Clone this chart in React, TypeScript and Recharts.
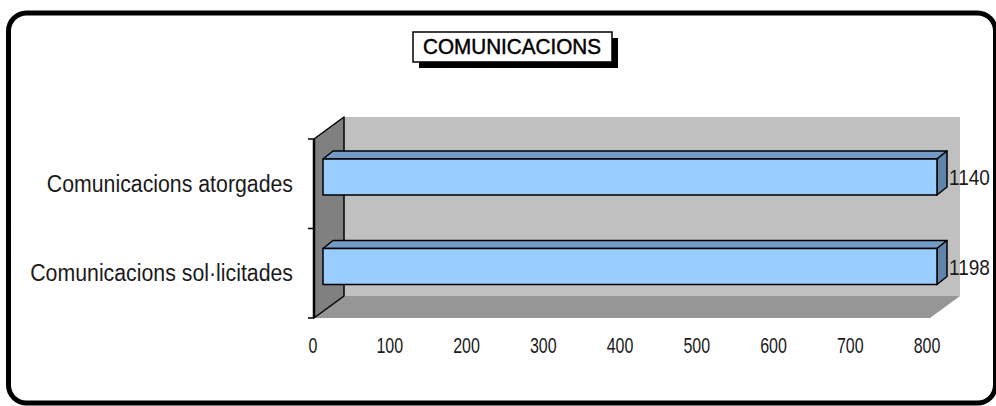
import { BarChart, Bar, XAxis, YAxis, LabelList, usePlotArea } from 'recharts';

const categories = ['Comunicacions atorgades', 'Comunicacions sol·licitades'];
const values = [1140, 1198];
const xTicks = [0, 100, 200, 300, 400, 500, 600, 700, 800];
const title = 'COMUNICACIONS';

const data = categories.map((name, i) => ({ name, value: values[i] }));
const X_MAX = xTicks[xTicks.length - 1];

const FONT = '"Liberation Sans", Arial, sans-serif';
const WALL = { dx: 30, dy: -22 };
const BAR_DEPTH = { dx: 10, dy: -8 };
const BAR_SHIFT = { dx: 9, dy: -7 };
const PAD_RIGHT = 67;

// the original cuts the bars off at the end of the value axis
const barLength = (d: { value: number }) => Math.min(d.value, X_MAX);

const Walls = () => {
  const area = usePlotArea();
  if (!area) return null;
  const x0 = area.x;
  const x1 = area.x + area.width - PAD_RIGHT + 2;
  const y0 = area.y;
  const y1 = area.y + area.height;
  const n = categories.length;
  const ticks = Array.from({ length: n + 1 }, (_, i) => y0 + (i * (y1 - y0)) / n);
  return (
    <g>
      <rect x={x0 + WALL.dx} y={y0 + WALL.dy} width={x1 - x0} height={y1 - y0} fill="#c0c0c0" />
      <polygon
        points={`${x0},${y1} ${x0 + WALL.dx},${y1 + WALL.dy} ${x1 + WALL.dx},${y1 + WALL.dy} ${x1},${y1}`}
        fill="#969696"
      />
      <polygon
        points={`${x0},${y0} ${x0 + WALL.dx},${y0 + WALL.dy} ${x0 + WALL.dx},${y1 + WALL.dy} ${x0},${y1}`}
        fill="#808080"
        stroke="#000"
        strokeWidth={1.5}
        strokeLinejoin="round"
      />
      <line x1={x0} y1={y0} x2={x0} y2={y1} stroke="#000" strokeWidth={2.5} />
      {ticks.map((t) => (
        <line key={t} x1={x0 - 6} y1={t} x2={x0} y2={t} stroke="#000" strokeWidth={1.5} />
      ))}
    </g>
  );
};

const Bar3D = (props: any) => {
  const { x, y, width: w, height } = props;
  const fx = x + BAR_SHIFT.dx;
  const fy = y + BAR_SHIFT.dy;
  const { dx, dy } = BAR_DEPTH;
  return (
    <g stroke="#000" strokeWidth={1.5} strokeLinejoin="round">
      <polygon
        points={`${fx},${fy} ${fx + dx},${fy + dy} ${fx + w + dx},${fy + dy} ${fx + w},${fy}`}
        fill="#739bc6"
      />
      <polygon
        points={`${fx + w},${fy} ${fx + w + dx},${fy + dy} ${fx + w + dx},${fy + height + dy} ${fx + w},${fy + height}`}
        fill="#6084ab"
      />
      <rect x={fx} y={fy} width={w} height={height} fill="#99ccff" />
    </g>
  );
};

const ValueLabel = (props: any) => {
  const { x, y, width, height, value } = props;
  const lx = x + BAR_SHIFT.dx + width + BAR_DEPTH.dx + 2;
  const ly = y + BAR_SHIFT.dy + height / 2 + 8;
  return (
    <text transform={`translate(${lx},${ly}) scale(1,1.15)`} fontSize={19} fontFamily={FONT} fill="#1a1a1a">
      {value}
    </text>
  );
};

const CategoryTick = (props: any) => {
  const { x, y, payload } = props;
  return (
    <text
      transform={`translate(${x - 21},${y + 8}) scale(1,1.12)`}
      textAnchor="end"
      fontSize={21.3}
      fontFamily={FONT}
      fill="#1a1a1a"
    >
      {payload.value}
    </text>
  );
};

const ValueTick = (props: any) => {
  const { x, y, payload } = props;
  return (
    <text
      transform={`translate(${x - 1},${y + 35}) scale(1,1.4)`}
      textAnchor="middle"
      fontSize={16}
      fontFamily={FONT}
      fill="#1a1a1a"
    >
      {payload.value}
    </text>
  );
};

const App = () => {
  return (
    <div style={{ position: 'absolute', left: 0, top: 0, width: 996, height: 406 }}>
      <svg width={996} height={406} style={{ position: 'absolute', left: 0, top: 0 }}>
        <rect x={8.5} y={13} width={987} height={390} rx={18} fill="#fff" stroke="#000" strokeWidth={5} />
        <rect x={419} y={38} width={199} height={30} fill="#000" />
        <rect x={413} y={32} width={199} height={30} fill="#fff" stroke="#000" strokeWidth={1.5} />
        <text
          transform="translate(512,54) scale(1,1.15)"
          textAnchor="middle"
          fontSize={19}
          fontFamily={FONT}
          fill="#000"
          stroke="#000"
          strokeWidth={0.4}
          textLength={178}
          lengthAdjust="spacingAndGlyphs"
        >
          {title}
        </text>
      </svg>
      <div style={{ position: 'absolute', left: 0, top: 0 }}>
        <BarChart
          width={996}
          height={406}
          data={data}
          layout="vertical"
          barSize={36}
          margin={{ top: 139, right: 1, bottom: 48, left: 14 }}
        >
          <Walls />
          <XAxis
            type="number"
            domain={[0, X_MAX]}
            ticks={xTicks}
            interval={0}
            padding={{ left: 0, right: PAD_RIGHT }}
            height={40}
            axisLine={false}
            tickLine={false}
            tickSize={0}
            tickMargin={0}
            tick={<ValueTick />}
          />
          <YAxis
            type="category"
            dataKey="name"
            width={300}
            axisLine={false}
            tickLine={false}
            tickSize={0}
            tickMargin={0}
            interval={0}
            tick={<CategoryTick />}
          />
          <Bar dataKey={barLength} shape={<Bar3D />} isAnimationActive={false}>
            <LabelList dataKey="value" content={<ValueLabel />} />
          </Bar>
        </BarChart>
      </div>
    </div>
  );
};

export default App;
